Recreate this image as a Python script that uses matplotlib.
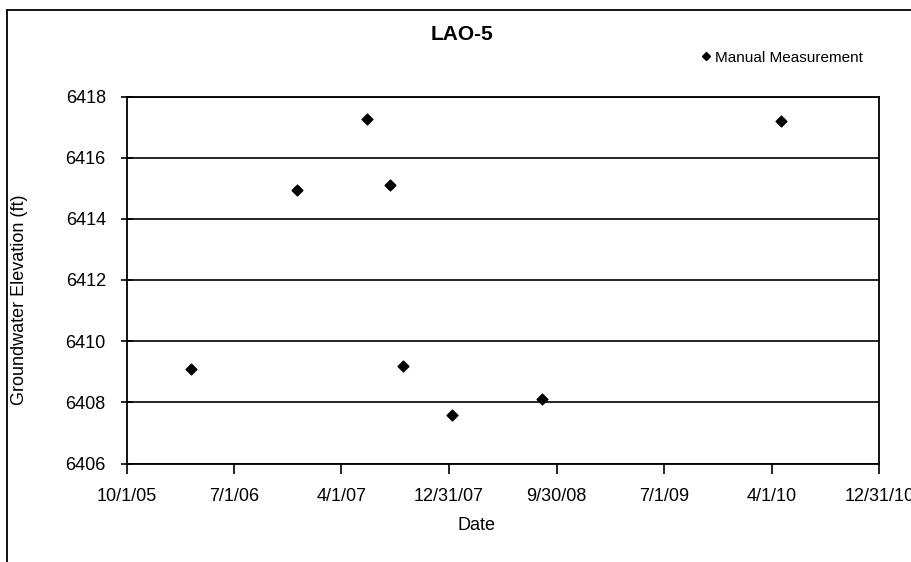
import matplotlib
matplotlib.use("Agg")
import matplotlib.pyplot as plt
from matplotlib.lines import Line2D
from datetime import datetime

plt.rcParams['font.family'] = ['Liberation Sans', 'DejaVu Sans']

dates = ["2006-03-15", "2006-12-08", "2007-06-06", "2007-08-02",
         "2007-09-05", "2008-01-08", "2008-08-24", "2010-04-25"]
elevations = [6409.1, 6414.95, 6417.25, 6415.1, 6409.2, 6407.6, 6408.1, 6417.2]

tick_dates = ["2005-10-01", "2006-07-01", "2007-04-01", "2007-12-31",
              "2008-09-30", "2009-07-01", "2010-04-01", "2010-12-31"]
tick_labels = ["10/1/05", "7/1/06", "4/1/07", "12/31/07",
               "9/30/08", "7/1/09", "4/1/10", "12/31/10"]
y_ticks = [6406, 6408, 6410, 6412, 6414, 6416, 6418]

x = [datetime.strptime(d, "%Y-%m-%d") for d in dates]
xt = [datetime.strptime(d, "%Y-%m-%d") for d in tick_dates]

fig = plt.figure(figsize=(9.12, 5.62), dpi=100)
ax = fig.add_axes([126.7 / 912, 1 - 463.5 / 562, (879.3 - 126.7) / 912, (463.5 - 96.5) / 562])

ax.scatter(x, elevations, marker="D", s=30, color="black", zorder=3)

ax.set_xlim(xt[0], xt[-1])
ax.set_ylim(6406, 6418)
ax.set_xticks(xt)
ax.set_xticklabels(tick_labels)
ax.set_yticks(y_ticks)
ax.yaxis.grid(True, color="black", linewidth=1.2)
ax.set_axisbelow(True)

ax.tick_params(axis="x", direction="out", length=7, width=1.2, pad=10.5, labelsize=13)
ax.tick_params(axis="y", direction="inout", length=9, width=1.2, pad=10.5, labelsize=13)
for s in ax.spines.values():
    s.set_linewidth(1.3)
    s.set_color("black")

# the last date label runs off the right edge, as in the original
ax.set_xlabel("Date", fontsize=13)
ax.xaxis.set_label_coords(0.465, -0.145)
ax.set_ylabel("Groundwater Elevation (ft)", fontsize=13)
ax.yaxis.set_label_coords(-0.131, 0.445)

fig.text(462 / 912, 1 - 35 / 562, "LAO-5", ha="center", va="center",
         fontsize=15, fontweight="bold")

handle = Line2D([], [], marker="D", linestyle="none", color="black", markersize=4.5)
fig.legend([handle], ["Manual Measurement"], loc="center left",
           bbox_to_anchor=(692 / 912, 1 - 57.7 / 562), frameon=False,
           fontsize=11, handlelength=0.8, handletextpad=0.2, borderpad=0)

# outer chart frame (left and top edges visible in the scan)
fig.add_artist(Line2D([7 / 912, 7 / 912], [0, 1 - 10 / 562], color="black", linewidth=1.3))
fig.add_artist(Line2D([7 / 912, 1], [1 - 10 / 562, 1 - 10 / 562], color="black", linewidth=1.3))

fig.savefig("out.png", dpi=100)
